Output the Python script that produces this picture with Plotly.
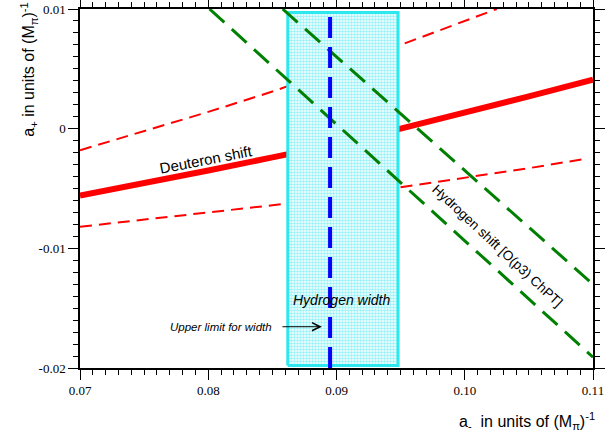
import plotly.graph_objects as go

# ---- data ----
x_red = [0.07, 0.075, 0.08, 0.085, 0.09, 0.095, 0.10, 0.105, 0.11]
deut_center = [-0.0056, -0.0046, -0.0035, -0.0024, -0.0013, 0.0000, 0.0013, 0.0027, 0.0041]

x_upper = [0.07, 0.075, 0.08, 0.085, 0.09, 0.095, 0.10, 0.1025]
deut_upper = [-0.0018, -0.0002, 0.0014, 0.0031, 0.0050, 0.0070, 0.0090, 0.0100]

x_lower = [0.07, 0.075, 0.08, 0.085, 0.09, 0.095, 0.10, 0.105, 0.1095]
deut_lower = [-0.0082, -0.0076, -0.0070, -0.0064, -0.0057, -0.0049, -0.0041, -0.0033, -0.0025]

hshift_a_x = [0.0801, 0.11]
hshift_a_y = [0.01, -0.0191]
hshift_b_x = [0.0858, 0.11]
hshift_b_y = [0.01, -0.0130]

width_box_x = [0.0862, 0.0948]
width_box_y = [-0.0198, 0.0097]

width_limit_x = 0.0895
y_range = [-0.02, 0.01]
x_range = [0.07, 0.11]

x_ticks = [0.07, 0.08, 0.09, 0.10, 0.11]
x_ticklabels = ["0.07", "0.08", "0.09", "0.10", "0.11"]
y_ticks = [-0.02, -0.01, 0, 0.01]
y_ticklabels = ["-0.02", "-0.01", "0", "0.01"]
minor_step = 0.001

fig = go.Figure()

# red deuteron band (under the box)
fig.add_trace(go.Scatter(x=x_upper, y=deut_upper, mode="lines",
                         line=dict(color="#ff0000", width=2, dash="12px,7px")))
fig.add_trace(go.Scatter(x=x_lower, y=deut_lower, mode="lines",
                         line=dict(color="#ff0000", width=2, dash="12px,7px")))
fig.add_trace(go.Scatter(x=x_red, y=deut_center, mode="lines",
                         line=dict(color="#ff0000", width=6)))

# hydrogen width box
bx0, bx1 = width_box_x
by0, by1 = width_box_y
fig.add_trace(go.Scatter(x=[bx0, bx1, bx1, bx0, bx0], y=[by0, by0, by1, by1, by0],
                         mode="lines", fill="toself",
                         fillcolor="#a8f4f8",
                         fillpattern=dict(shape=".", bgcolor="#ffffff", fgcolor="#30e4f0",
                                          size=3, solidity=0.55),
                         line=dict(color="#2ee8f0", width=3)))

# hydrogen shift lines
fig.add_trace(go.Scatter(x=hshift_a_x, y=hshift_a_y, mode="lines",
                         line=dict(color="#008000", width=3, dash="20px,10px")))
fig.add_trace(go.Scatter(x=hshift_b_x, y=hshift_b_y, mode="lines",
                         line=dict(color="#008000", width=3, dash="20px,10px")))

# width upper limit
fig.add_trace(go.Scatter(x=[width_limit_x, width_limit_x], y=y_range, mode="lines",
                         line=dict(color="#0000ff", width=4, dash="21px,9px")))

axis_common = dict(
    showline=True, linecolor="black", linewidth=1.5, mirror="ticks",
    ticks="outside", ticklen=10, tickwidth=1.2, tickcolor="black",
    showgrid=False, zeroline=False, automargin=False,
    tickfont=dict(family="Liberation Serif, Times New Roman, serif", size=13, color="black"),
)
minor_common = dict(ticks="outside", ticklen=5, dtick=minor_step,
                    tickcolor="black", tickwidth=1.2, showgrid=False)

fig.update_xaxes(range=x_range, tickmode="array", tickvals=x_ticks, ticktext=x_ticklabels,
                 minor=minor_common, **axis_common)
fig.update_yaxes(range=y_range, tickmode="array", tickvals=y_ticks, ticktext=y_ticklabels,
                 minor=minor_common, **axis_common)

sans = "Liberation Sans"
annotations = [
    dict(text="Deuteron shift", x=0.0798, y=-0.0026, xref="x", yref="y",
         textangle=-11, showarrow=False, font=dict(family=sans, size=15, color="black")),
    dict(text="Hydrogen shift [O(p3) ChPT]", x=0.1025, y=-0.0098, xref="x", yref="y",
         textangle=43, showarrow=False, font=dict(family=sans, size=13.6, color="black")),
    dict(text="<i>Hydrogen width</i>", x=0.0904, y=-0.0143, xref="x", yref="y",
         showarrow=False, font=dict(family=sans, size=14, color="black")),
    dict(text="<i>Upper limit for width</i>", x=0.08512, y=-0.01655, xref="x", yref="y",
         xanchor="right", showarrow=False, font=dict(family=sans, size=11.5, color="black")),
    dict(text="", x=0.08886, y=-0.01655, ax=0.08567, ay=-0.01655,
         xref="x", yref="y", axref="x", ayref="y",
         showarrow=True, arrowhead=5, arrowsize=1.6, arrowwidth=1, arrowcolor="black"),
    dict(text="a<sub>+</sub> in units of (M<sub>π</sub>)<sup>-1</sup>",
         x=-0.1, y=0.83, xref="paper", yref="paper", xanchor="center", yanchor="middle",
         textangle=-90, showarrow=False, font=dict(family=sans, size=16, color="black")),
    dict(text="a<sub>-</sub>  in units of (M<sub>π</sub>)<sup>-1</sup>",
         x=1.008, y=-0.148, xref="paper", yref="paper", xanchor="right", yanchor="middle",
         showarrow=False, font=dict(family=sans, size=16, color="black")),
]

fig.update_layout(
    width=614, height=436,
    margin=dict(l=80, r=21, t=9, b=68, autoexpand=False),
    plot_bgcolor="white", paper_bgcolor="white",
    showlegend=False,
    annotations=annotations,
)

fig.write_html("out.html", config={"displayModeBar": False},
               post_script="document.body.style.margin='0px';document.body.style.padding='0px';")
